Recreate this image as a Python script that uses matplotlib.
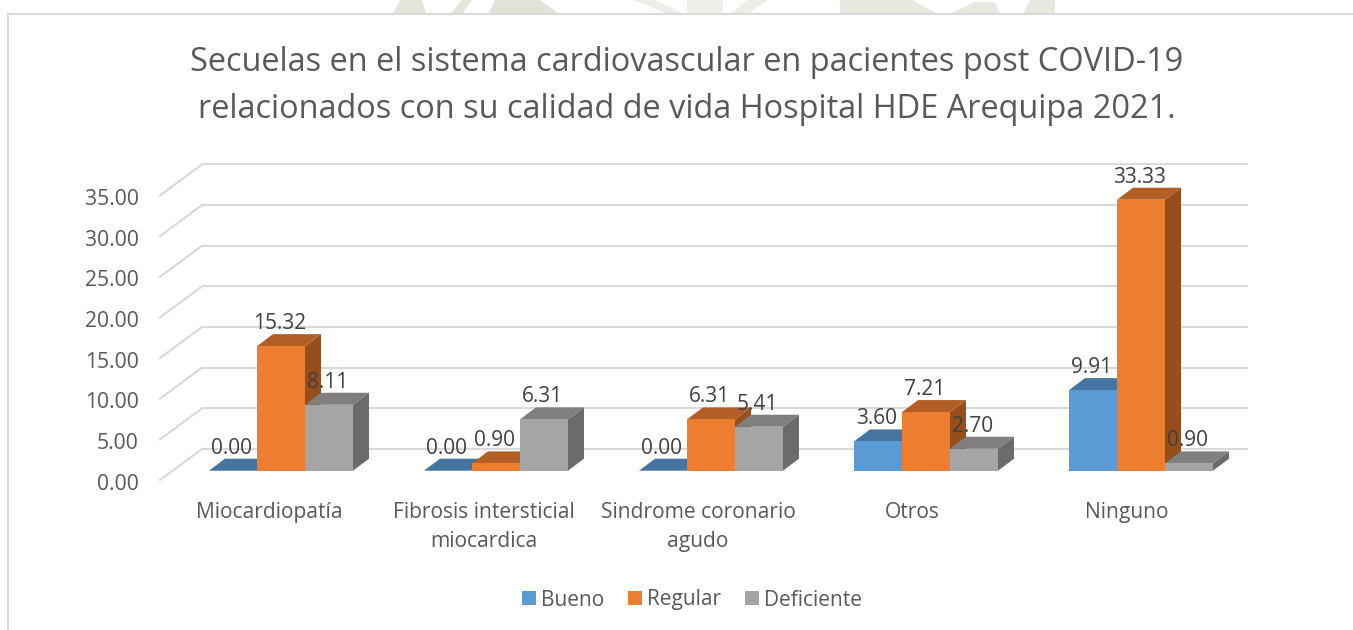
import matplotlib
matplotlib.use("Agg")
import matplotlib.pyplot as plt
from matplotlib.lines import Line2D
from matplotlib.patches import Patch, Polygon
from matplotlib.transforms import Affine2D

plt.rcParams['font.family'] = ['Open Sans', 'DejaVu Sans']

TITLE = "Secuelas en el sistema cardiovascular en pacientes post COVID-19\nrelacionados con su calidad de vida Hospital HDE Arequipa 2021."
categories = ["Miocardiopatía", "Fibrosis intersticial\nmiocardica", "Sindrome coronario\nagudo", "Otros", "Ninguno"]
bueno = [0.00, 0.00, 0.00, 3.60, 9.91]
regular = [15.32, 0.90, 6.31, 7.21, 33.33]
deficiente = [8.11, 6.31, 5.41, 2.70, 0.90]
y_ticks = [0, 5, 10, 15, 20, 25, 30, 35]
series_names = ["Bueno", "Regular", "Deficiente"]

W, H = 1353, 630
PX_X = 215.0       # px per category
PX_Y = 8.13        # px per unit
X0 = 281.0         # px of first group's centre
BAR_W = 48.0 / PX_X
DEPTH_X = 16 / PX_X
DEPTH_Y = 12 / PX_Y
TXT = '#595959'

fig = plt.figure(figsize=(W / 100, H / 100), dpi=100, facecolor='white')
left, right = 160.0, 1248.0
bottom_row, top_row = 470.7, 150.0
ax = fig.add_axes([left / W, 1 - bottom_row / H, (right - left) / W, (bottom_row - top_row) / H])
ax.set_xlim((left - X0) / PX_X, (right - X0) / PX_X)
ax.set_ylim(0, (bottom_row - top_row) / PX_Y)
ax.axis('off')

# chart frame and faint page watermark above it
bg = fig.add_axes([0, 0, 1, 1], zorder=-1)
bg.set_xlim(0, W); bg.set_ylim(H, 0); bg.axis('off')
for pts, col in (([(393, 14), (400, 0), (422, 0), (426, 14)], '#E4E6DA'),
                 ([(450, 14), (462, 0), (472, 0), (462, 14)], '#E4E6DA'),
                 ([(488, 14), (495, 0), (540, 0), (559, 14)], '#E0E3D6'),
                 ([(633, 0), (655, 0), (685, 14), (668, 14)], '#EEEEE8'),
                 ([(687, 0), (723, 0), (723, 14), (687, 14)], '#EFEFEA'),
                 ([(730, 14), (747, 0), (768, 0), (748, 14)], '#EEEEE8'),
                 ([(840, 0), (912, 0), (938, 14), (840, 14)], '#E8E8E1'),
                 ([(950, 14), (975, 2), (995, 2), (1000, 14)], '#E8E8E1'),
                 ([(1023, 14), (1030, 0), (1055, 0), (1055, 14)], '#E8E8E1')):
    bg.add_patch(Polygon(pts, closed=True, fc=col, ec='none'))
bg.add_line(Line2D([8, 8], [H, 14], color='#D9D9D9', lw=1.5))
bg.add_line(Line2D([8, W], [14, 14], color='#D9D9D9', lw=1.5))

# gridlines on wall and side, offset from the bar plane in pixels
wall = ax.transData + Affine2D().translate(0, 21.7)
side_front = ax.transData + Affine2D().translate(0, -9.3)
label_tf = ax.transData + Affine2D().translate(0, -13.5)
x_wall = (202 - X0) / PX_X
x_front = (160 - X0) / PX_X
x_end = (1248 - X0) / PX_X
x_lab = (139 - X0) / PX_X
for t in y_ticks:
    ax.plot([x_wall, x_end], [t, t], color='#D9D9D9', lw=1.5, transform=wall, zorder=1, clip_on=False,
            solid_capstyle='butt')
    p0 = side_front.transform((x_front, t))
    p1 = wall.transform((x_wall, t))
    ax.add_line(Line2D([p0[0], p1[0]], [p0[1], p1[1]], color='#D9D9D9', lw=1.5, transform=None, zorder=1,
                       clip_on=False))
    ax.text(x_lab, t, f"{t:.2f}", transform=label_tf, ha='right', va='center',
            fontsize=15.2, color=TXT, clip_on=False)

styles = [('#5B9BD5', '#44749F', '#3F6C95'),
          ('#ED7D31', '#B35E25', '#964F1C'),
          ('#A5A5A5', '#7F7F7F', '#6B6B6B')]
series = [bueno, regular, deficiente]

z = 3
for c in range(len(categories)):
    for s, vals in enumerate(series):
        v = vals[c]
        x0 = c + (s - 1.5) * BAR_W
        x1 = x0 + BAR_W
        f, tp, sd = styles[s]
        ax.add_patch(Polygon([(x1, 0), (x1 + DEPTH_X, DEPTH_Y), (x1 + DEPTH_X, v + DEPTH_Y), (x1, v)],
                             closed=True, fc=sd, ec='none', zorder=z))
        ax.add_patch(Polygon([(x0, v), (x0 + DEPTH_X, v + DEPTH_Y), (x1 + DEPTH_X, v + DEPTH_Y), (x1, v)],
                             closed=True, fc=tp, ec='none', zorder=z + 0.1))
        ax.bar(x0 + BAR_W / 2, v, width=BAR_W, color=f, edgecolor='none', zorder=z + 0.2)
        z += 1

for c in range(len(categories)):
    for s, vals in enumerate(series):
        v = vals[c]
        xc = c + (s - 1) * BAR_W
        ax.annotate(f"{v:.2f}", (xc, v + DEPTH_Y), xytext=(-1.5 * 0.72, 10.5 * 0.72), textcoords='offset points',
                    ha='center', va='center', fontsize=15, color='#404040', zorder=100, annotation_clip=False)

for c, lab in enumerate(categories):
    x_px = (269 + c * 214.5) / W
    fig.text(x_px, 1 - 502 / H, lab, ha='center', va='top', fontsize=15.1, color=TXT, linespacing=1.5)

fig.text(687 / W, 1 - 86 / H, TITLE, ha='center', va='center', fontsize=23.4, color=TXT, linespacing=1.55)

handles = [Patch(fc=st[0], ec='none') for st in styles]
fig.legend(handles, series_names, loc='center', bbox_to_anchor=(692 / W, 1 - 600 / H), ncol=3, frameon=False,
           fontsize=15, labelcolor=TXT, handlelength=0.67, handleheight=0.67, handletextpad=0.24,
           columnspacing=1.15, borderpad=0)

fig.savefig('out.png', dpi=100)
